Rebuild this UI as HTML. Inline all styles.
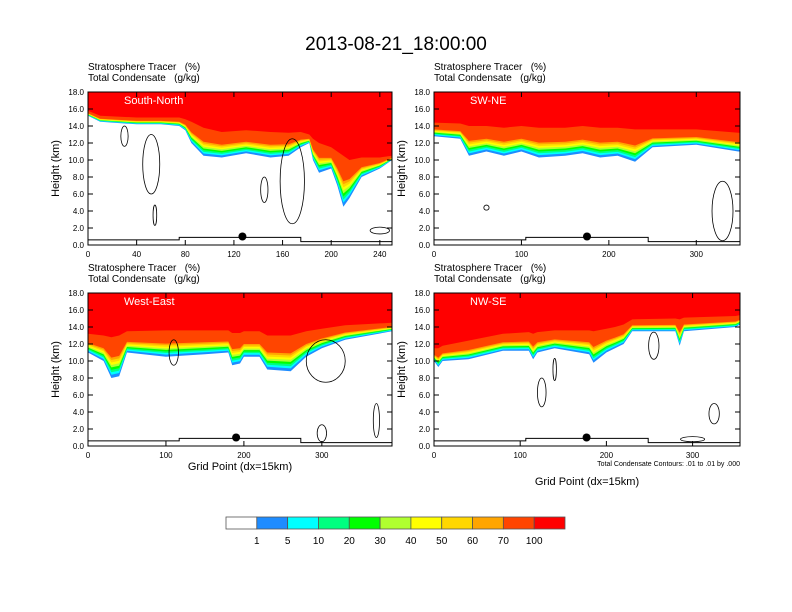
<!DOCTYPE html>
<html><head><meta charset="utf-8">
<style>
body{margin:0;background:#fff;}
svg{display:block;font-family:"Liberation Sans",sans-serif;}
</style></head>
<body>
<svg id="chart" width="792" height="612" viewBox="0 0 792 612">
<text x="396" y="50" text-anchor="middle" font-size="19">2013-08-21_18:00:00</text>
<g id="panels"></g>
<g id="colorbar"></g>
</svg>
<script>
// ---- data ----
const levelLabels = ["1","5","10","20","30","40","50","60","70","100"];
const levelColors = ["#ffffff","#1e8cff","#00ffff","#00ff80","#00ff00","#b0ff30","#ffff00","#ffd700","#ffa500","#ff4500","#ff0000"];
const yTicks = [0,2,4,6,8,10,12,14,16,18];

const snX = [0,10,40,60,75,80,85,95,110,130,150,165,175,182,185,190,200,205,210,215,225,240,250];
const snBase = [15.2,14.5,14.2,14.2,14.0,13.5,12.0,10.5,10.3,10.8,10.3,10.5,11.5,12.0,10.0,8.5,9.0,7.0,4.5,5.5,8.0,9.0,10.0];
const snTop = [15.8,15.2,15.0,15.0,15.0,14.8,14.5,13.8,13.3,13.5,13.3,13.2,13.3,13.0,12.5,12.0,11.5,11.0,10.5,10.0,10.3,10.3,10.5];
// cloud contours: [gridX, heightKm, halfWidthGrid, halfHeightKm]
const snClouds = [[52,9.5,7,3.5],[30,12.8,3,1.2],[168,7.5,10,5],[145,6.5,3,1.5],[55,3.5,1.5,1.2],[240,1.7,8,0.4]];
const swClouds = [[60,4.4,3,0.3],[330,4,12,3.5]];
const weClouds = [[110,11,6,1.5],[305,10,25,2.5],[300,1.5,6,1],[370,3,4,2]];
const nwClouds = [[125,6.3,5,1.7],[140,9,2,1.3],[255,11.8,6,1.6],[325,3.8,6,1.2],[300,0.8,14,0.3]];

const swX = [0,30,40,60,80,100,120,150,170,190,210,230,250,300,348];
const swBase = [12.8,12.5,10.5,11.0,10.5,11.0,10.3,10.5,10.8,10.3,10.5,9.8,11.5,11.8,11.0];
const swTop = [14.4,14.3,14.0,14.0,13.8,14.0,13.8,13.8,14.0,13.8,13.8,13.6,13.6,13.6,13.2];

const weX = [0,20,30,40,50,100,150,180,185,195,200,220,230,260,280,300,330,390];
const weBase = [11.0,10.0,8.0,8.2,11.0,10.5,10.8,11.0,9.5,9.7,10.5,10.5,9.0,8.8,10.5,11.5,12.5,13.5];
const weTop = [13.2,13.0,12.8,13.0,13.5,13.6,13.6,13.6,13.3,13.3,13.5,13.5,13.0,13.0,13.5,13.8,14.2,14.5];

const nwX = [0,5,10,40,80,110,115,120,140,180,185,200,210,220,230,280,285,290,350,355];
const nwBase = [10.0,9.3,10.0,10.2,11.2,11.2,10.2,11.0,11.5,10.8,9.8,11.0,11.5,12.0,13.5,13.5,11.8,13.5,14.0,14.3];
const nwTop = [11.5,11.5,11.8,12.4,13.2,13.4,13.2,13.4,13.6,13.6,13.5,13.8,14.0,14.3,14.9,15.0,14.9,15.1,15.3,15.4];

const panels = [
 {name:"South-North",x0:88,y0:92,w:304,h:153,xmax:250,ticks:[0,40,80,120,160,200,240],xs:snX,base:snBase,top:snTop,clouds:snClouds,dot:127,title:false},
 {name:"SW-NE",x0:434,y0:92,w:306,h:153,xmax:350,ticks:[0,100,200,300],xs:swX,base:swBase,top:swTop,clouds:swClouds,dot:175,title:false},
 {name:"West-East",x0:88,y0:293,w:304,h:153,xmax:390,ticks:[0,100,200,300],xs:weX,base:weBase,top:weTop,clouds:weClouds,dot:190,title:true},
 {name:"NW-SE",x0:434,y0:293,w:306,h:153,xmax:355,ticks:[0,100,200,300],xs:nwX,base:nwBase,top:nwTop,clouds:nwClouds,dot:177,title:true}
];
const bandFrac = [0,0.08,0.14,0.2,0.26,0.32,0.38,0.44,0.5,1.0];
// ---- drawing ----
const NS="http://www.w3.org/2000/svg";
function mk(tag,attrs,parent){const e=document.createElementNS(NS,tag);for(const k in attrs)e.setAttribute(k,attrs[k]);parent.appendChild(e);return e;}
const root=document.getElementById('panels');
panels.forEach((p,pi)=>{
 const g=mk('g',{},root);
 
 
 const sx=v=>p.x0+v/p.xmax*p.w, sy=v=>p.y0+p.h-v/18*p.h;
 const clipId='c'+pi;
 const cp=mk('clipPath',{id:clipId},g); mk('rect',{x:p.x0,y:p.y0,width:p.w,height:p.h},cp);
 const fg=mk('g',{'clip-path':'url(#'+clipId+')'},g);
 for(let k=1;k<=10;k++){
  const f=bandFrac[k-1];
  const hv=i=>p.base[i]+(p.top[i]-p.base[i])*f;
  let pts=[[sx(0),sy(18)],[sx(0),sy(hv(0))]];
  p.xs.forEach((x,i)=>pts.push([sx(x),sy(hv(i))]));
  pts.push([sx(p.xmax),sy(hv(p.xs.length-1))]);
  pts.push([sx(p.xmax),sy(18)]);
  const poly=mk('polygon',{points:pts.map(q=>q.join(',')).join(' '),fill:levelColors[k]},fg);
  
  
 }
 p.clouds.forEach(c=>{
  const e=mk('ellipse',{cx:sx(c[0]),cy:sy(c[1]),rx:c[2]/p.xmax*p.w,ry:c[3]/18*p.h,fill:'none',stroke:'#000','stroke-width':0.8},fg);
  
  
 });
 const tl=mk('polyline',{points:`${sx(0)},${sy(0.6)} ${sx(p.xmax*0.3)},${sy(0.6)} ${sx(p.xmax*0.3)},${sy(0.9)} ${sx(p.xmax*0.7)},${sy(0.9)} ${sx(p.xmax*0.7)},${sy(0.4)} ${sx(p.xmax)},${sy(0.4)}`,fill:'none',stroke:'#000','stroke-width':1},fg);
 
 
 const dot=mk('circle',{cx:sx(p.dot),cy:sy(1.0),r:4,fill:'#000'},g);
 
 
 mk('rect',{x:p.x0,y:p.y0,width:p.w,height:p.h,fill:'none',stroke:'#000','stroke-width':1},g);
 const lbl=mk('text',{x:p.x0+36,y:p.y0+12,fill:'#fff','font-size':11},g); lbl.textContent=p.name;
 
 
 const t1=mk('text',{x:p.x0,y:p.y0-22,'font-size':10},g); t1.textContent='Stratosphere Tracer\u00a0\u00a0\u00a0(%)';
 
 
 const t2=mk('text',{x:p.x0,y:p.y0-11,'font-size':10},g); t2.textContent='Total Condensate\u00a0\u00a0\u00a0(g/kg)';
 
 
 yTicks.forEach(v=>{
  mk('line',{x1:p.x0,x2:p.x0+5,y1:sy(v),y2:sy(v),stroke:'#000'},g);
  mk('line',{x1:p.x0+p.w,x2:p.x0+p.w-5,y1:sy(v),y2:sy(v),stroke:'#000'},g);
  const t=mk('text',{x:p.x0-4,y:sy(v)+3,'text-anchor':'end','font-size':8},g); t.textContent=v.toFixed(1);
  
  
 });
 p.ticks.forEach(v=>{
  mk('line',{x1:sx(v),x2:sx(v),y1:p.y0+p.h,y2:p.y0+p.h-5,stroke:'#000'},g);
  mk('line',{x1:sx(v),x2:sx(v),y1:p.y0,y2:p.y0+5,stroke:'#000'},g);
  const t=mk('text',{x:sx(v),y:p.y0+p.h+12,'text-anchor':'middle','font-size':8},g); t.textContent=v;
  
  
 });
 const yt=mk('text',{x:0,y:0,'font-size':11,'text-anchor':'middle',transform:`translate(${p.x0-29},${p.y0+p.h/2}) rotate(-90)`},g);
 yt.textContent='Height (km)';
 
 
 if(p.title){
  const xt=mk('text',{x:p.x0+p.w/2,y:pi==2?p.y0+p.h+24:p.y0+p.h+39,'font-size':11,'text-anchor':'middle'},g);
  xt.textContent='Grid Point (dx=15km)';
  
  
 }
 if(pi==3){
  const n=mk('text',{x:p.x0+p.w,y:p.y0+p.h+20,'font-size':7,'text-anchor':'end'},g);
  n.textContent='Total Condensate Contours: .01 to .01 by .000';
  
  
 }
});
const cb=document.getElementById('colorbar');
const bx=226,bw=339/11;
levelColors.forEach((c,i)=>{
 const r=mk('rect',{x:bx+i*bw,y:517,width:bw,height:12,fill:c,stroke:'#555','stroke-width':0.8},cb);
 
 
});
levelLabels.forEach((l,i)=>{
 const t=mk('text',{x:bx+(i+1)*bw,y:544,'font-size':10,'text-anchor':'middle'},cb); t.textContent=l;
 
 
});
</script>
</body></html>
